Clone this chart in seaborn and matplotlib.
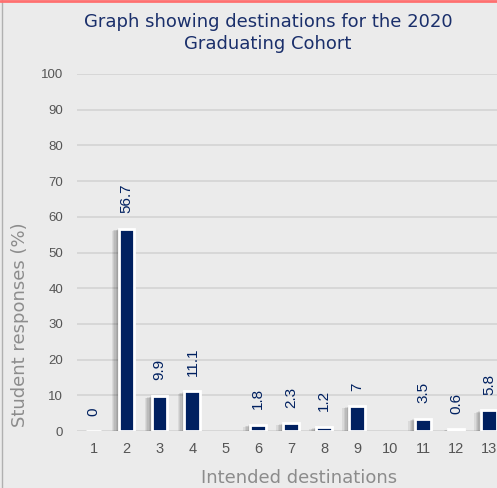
import numpy as np
import pandas as pd
import matplotlib
matplotlib.use("Agg")
import matplotlib.pyplot as plt
import matplotlib.patheffects as pe
import seaborn as sns

# Chart data
destinations = [str(i) for i in range(1, 14)]
responses = [0, 56.7, 9.9, 11.1, np.nan, 1.8, 2.3, 1.2, 7, np.nan, 3.5, 0.6, 5.8]
y_ticks = list(range(0, 101, 10))

title = "Graph showing destinations for the 2020\nGraduating Cohort"
x_title = "Intended destinations"
y_title = "Student responses (%)"

navy = "#002060"
bg = "#ebebeb"

sns.set_style("white")
plt.rcParams["font.family"] = ["Liberation Sans", "DejaVu Sans"]

df = pd.DataFrame({"dest": destinations, "pct": responses})

fig = plt.figure(figsize=(4.97, 4.88), dpi=100)
fig.patch.set_facecolor(bg)
ax = fig.add_axes([77 / 497, 1 - 431 / 488, 1 - 77 / 497, (431 - 74) / 488])
ax.set_facecolor(bg)

sns.barplot(data=df.dropna(), x="dest", y="pct", order=destinations,
            color=navy, width=0.48, edgecolor="white", linewidth=2,
            saturation=1, ax=ax, zorder=3)
# soft drop shadow to the left of each bar
shadow = [pe.SimplePatchShadow(offset=(-k, -k / 3), alpha=0.07, shadow_rgbFace="black")
          for k in (5, 4, 3, 2, 1)]
for p in ax.patches:
    p.set_path_effects(shadow + [pe.Normal()])

# value labels
for i, v in enumerate(responses):
    if np.isnan(v):
        continue
    ax.annotate(f"{v:g}", (i, v), xytext=(0, 11), textcoords="offset points",
                rotation=90, ha="center", va="bottom", fontsize=11, color=navy)

ax.set_ylim(0, 100)
ax.set_xlim(-0.5, 12.24)
ax.set_yticks(y_ticks)
ax.grid(axis="y", color="#d4d4d4", linewidth=1.2, zorder=0)
ax.set_axisbelow(True)
for s in ax.spines.values():
    s.set_visible(False)
ax.tick_params(axis="y", length=0, pad=10, labelsize=9.5, labelcolor="#555555")
ax.tick_params(axis="x", length=0, pad=8, labelsize=10.5, labelcolor="#555555")
ax.set_xlabel("")
ax.set_ylabel("")

fig.text(299 / 497, 1 - 478 / 488, x_title, ha="center", va="center",
         fontsize=13, color="#8c8c8c", family="DejaVu Sans")
fig.text(20 / 497, 1 - 325 / 488, y_title, ha="center", va="center",
         rotation=90, fontsize=13, color="#8c8c8c", family="DejaVu Sans")
fig.text(268 / 497, 1 - 33 / 488, title, ha="center", va="center",
         fontsize=13, color="#1a2f6b", family="DejaVu Sans", linespacing=1.3)

# frame lines of the original widget
fig.add_artist(plt.Line2D([2 / 497, 2 / 497], [0, 1], color="#b0b0b0", linewidth=1))
fig.add_artist(plt.Line2D([0, 1], [1 - 0.5 / 488, 1 - 0.5 / 488], color="#ff7070", linewidth=2))

fig.savefig("out.png", dpi=100, facecolor=bg)
